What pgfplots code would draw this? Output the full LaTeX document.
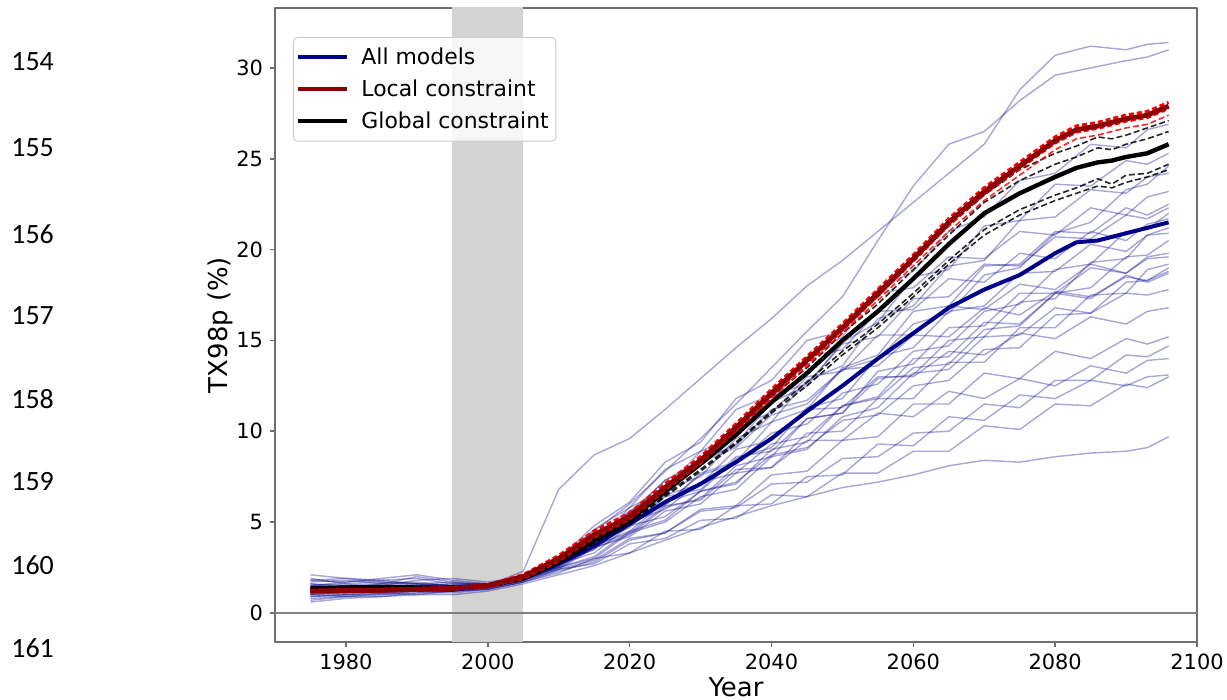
\documentclass[border=0pt]{standalone}
\usepackage{fontspec}
\setmainfont{DejaVu Sans}
\newfontfamily\carlito{Carlito}
\usepackage{pgfplots}
\usepackage{pgfplotstable}
\pgfplotsset{compat=1.18}

\definecolor{thinblue}{RGB}{0,0,139}
\definecolor{meanblue}{RGB}{0,0,139}
\definecolor{locred}{RGB}{139,0,0}
\definecolor{bandgray}{RGB}{211,211,211}
\definecolor{spine}{RGB}{110,110,110}
\definecolor{zeroline}{RGB}{128,128,128}
\definecolor{legframe}{RGB}{204,204,204}

% one row per model run
\pgfplotstableread{
model 1975 1980 1985 1990 1995 2000 2005 2010 2015 2020 2025 2030 2035 2040 2045 2050 2055 2060 2065 2070 2075 2080 2085 2090 2093 2096
m1 1.6 1.5 1.4 1.6 1.5 1.5 2.3 6.8 8.7 9.6 11.2 12.9 14.6 16.2 18.0 19.4 21.0 22.6 24.2 25.8 28.8 30.7 31.2 31.0 31.3 31.4
m2 1.3 1.4 1.3 1.5 1.4 1.5 2.0 3.0 4.5 6.0 7.8 9.6 11.5 13.5 15.5 17.4 20.5 23.5 25.8 26.5 28.2 29.6 30.0 30.4 30.6 31.0
m3 2.1 1.9 1.8 1.9 1.6 1.6 2.0 2.8 4.3 5.5 7.3 8.4 10.4 11.6 14.0 15.2 17.8 18.8 21.0 21.8 23.8 24.2 25.8 25.6 26.6 26.9
m4 1.0 1.1 1.2 1.2 1.2 1.4 1.9 2.8 3.7 5.5 6.5 8.4 9.3 11.6 12.5 14.9 16.0 18.5 18.9 21.3 21.6 23.6 23.5 24.9 24.7 25.3
m5 1.8 1.7 1.9 2.1 1.8 1.6 1.9 2.9 3.9 5.6 6.6 8.3 9.1 10.9 11.5 13.4 14.0 15.9 16.5 18.6 19.0 20.9 21.5 23.3 23.6 24.6
m6 0.8 0.9 1.0 1.1 1.2 1.4 1.8 2.6 4.0 5.0 6.8 7.5 9.6 10.5 12.8 13.6 16.2 16.9 19.1 19.4 21.6 21.8 23.3 23.1 24.0 24.2
m7 1.5 1.6 1.4 1.5 1.5 1.6 2.1 3.0 4.8 6.1 8.3 9.4 11.8 12.8 15.0 15.5 17.6 17.9 19.6 19.5 21.0 20.8 22.3 21.9 22.9 23.2
m8 1.2 1.3 1.2 1.3 1.3 1.4 1.8 2.7 3.5 5.1 5.9 7.7 8.3 10.5 11.2 13.5 14.2 16.6 16.9 19.1 19.2 21.0 20.9 22.3 21.9 22.5
m9 1.9 1.6 1.7 1.6 1.5 1.5 1.9 2.8 3.6 5.2 6.0 7.6 8.2 9.9 10.4 12.1 12.6 14.4 14.7 16.6 17.0 18.9 19.2 21.0 21.1 22.0
m10 0.9 1.0 1.1 1.0 1.2 1.4 1.9 2.9 4.6 5.8 7.9 8.9 11.2 12.0 14.1 14.5 16.6 16.7 18.4 18.2 19.8 19.5 21.0 20.5 21.4 21.7
m11 1.4 1.5 1.6 2.0 1.7 1.6 1.9 2.5 3.7 4.5 6.1 6.7 8.5 9.1 11.3 11.8 14.1 14.6 16.6 16.9 18.7 18.8 20.3 19.9 20.8 20.9
m12 1.1 1.0 1.2 1.3 1.2 1.4 1.8 2.7 3.5 5.0 5.7 7.2 7.7 9.3 9.7 11.4 11.8 13.5 13.7 15.6 15.8 17.6 17.9 19.6 19.7 20.5
m13 1.7 1.8 1.6 1.5 1.6 1.6 2.0 2.8 4.3 5.4 7.3 8.2 10.3 11.0 13.0 13.3 15.3 15.3 16.9 16.7 18.1 17.8 19.2 18.7 19.6 19.8
m14 0.7 0.9 0.9 1.1 1.1 1.3 1.7 2.4 3.6 4.3 5.8 6.3 8.1 8.6 10.7 11.0 13.3 13.7 15.7 15.8 17.6 17.6 19.0 18.7 19.5 19.6
m15 1.3 1.4 1.5 1.4 1.4 1.5 1.9 2.6 3.7 4.4 5.9 6.2 7.9 8.0 9.9 10.0 11.8 11.8 13.8 13.8 15.7 15.7 17.5 17.6 18.9 19.2
m16 1.6 1.4 1.5 1.8 1.9 1.7 2.0 2.9 3.8 5.6 6.5 8.4 9.2 11.2 11.7 13.4 13.6 15.3 15.2 16.8 16.4 17.7 17.4 18.5 18.3 18.8
m17 1.0 1.2 1.1 1.2 1.3 1.4 1.8 2.5 3.1 4.5 5.1 6.7 7.1 9.0 9.4 11.4 11.9 14.0 14.1 16.0 15.9 17.6 17.3 18.6 18.2 18.7
m18 1.5 1.7 1.8 1.6 1.5 1.5 1.9 2.7 3.3 4.8 5.3 6.7 7.2 8.7 9.1 10.6 10.9 12.5 12.8 14.5 14.6 16.4 16.5 18.2 18.3 19.0
m19 1.2 1.1 1.3 1.2 1.3 1.4 1.8 2.6 4.0 4.8 6.5 7.1 9.0 9.5 11.2 11.3 13.0 13.0 14.4 14.2 15.4 15.1 16.3 15.9 16.6 16.8
m20 0.9 1.0 1.0 1.2 1.2 1.3 1.7 2.3 2.8 4.0 4.4 5.7 5.9 7.6 7.8 9.5 9.7 11.5 11.5 13.2 12.9 14.4 14.0 15.1 14.8 15.2
m21 1.4 1.3 1.4 1.5 1.4 1.4 1.8 2.4 2.9 4.1 4.4 5.6 5.8 7.1 7.2 8.5 8.6 9.9 10.0 11.5 11.3 12.8 12.8 14.2 14.1 14.7
m22 1.8 1.9 1.7 1.6 1.7 1.5 1.9 2.5 3.6 4.2 5.6 6.0 7.7 8.0 9.5 9.5 11.0 10.8 12.2 11.8 12.9 12.5 13.6 13.2 13.9 14.0
m23 1.1 1.2 1.3 1.2 1.2 1.3 1.7 2.2 3.0 3.3 4.5 4.6 5.9 6.0 7.5 7.6 9.3 9.2 10.8 10.6 12.0 11.8 12.8 12.5 13.0 13.1
m24 1.3 1.2 1.1 1.3 1.4 1.4 1.8 2.4 2.7 3.8 4.1 5.1 5.2 6.5 6.4 7.7 7.7 8.9 8.9 10.3 10.1 11.5 11.4 12.6 12.4 13.0
m25 0.6 0.8 0.9 1.0 1.0 1.2 1.6 2.1 2.6 3.3 4.0 4.7 5.3 5.9 6.4 6.9 7.2 7.6 8.1 8.4 8.3 8.6 8.8 8.9 9.1 9.7
m26 1.5 1.4 1.6 1.7 1.5 1.6 2.0 3.0 3.9 5.8 6.8 8.9 9.7 12.0 12.6 14.8 15.2 17.3 17.4 19.2 19.1 20.7 20.6 21.9 21.7 22.3
m27 1.0 0.9 1.1 1.2 1.3 1.4 1.8 2.7 3.9 4.7 6.4 6.8 8.6 8.9 10.7 11.0 12.9 13.1 15.0 15.2 17.1 17.3 19.3 19.5 20.8 21.2
m28 1.3 1.5 1.4 1.4 1.5 1.5 1.9 2.5 3.0 4.4 5.0 6.4 6.8 8.6 9.0 10.8 11.3 13.2 13.4 15.2 15.3 16.8 16.5 17.6 17.5 17.8
}\modelrows
\pgfplotstabletranspose[colnames from=model]{\models}{\modelrows}

% ensemble mean, local and global constraint
\pgfplotstableread{
year blue red black rdu rdl rdt d1 d2 d3 d4
1975 1.20 1.20 1.35 1.25 1.15 1.20 1.35 1.35 1.35 1.35
1980 1.25 1.22 1.40 1.27 1.17 1.22 1.40 1.40 1.40 1.40
1985 1.30 1.25 1.42 1.30 1.20 1.25 1.42 1.42 1.42 1.42
1990 1.32 1.30 1.40 1.35 1.25 1.30 1.40 1.40 1.40 1.40
1995 1.35 1.35 1.38 1.40 1.30 1.35 1.38 1.38 1.38 1.38
2000 1.50 1.50 1.50 1.55 1.45 1.50 1.50 1.50 1.50 1.50
2005 1.90 2.00 1.90 2.10 1.90 2.00 1.9 1.9 1.9 1.9
2010 2.70 3.00 2.80 3.15 2.88 2.95 2.9 2.8 2.7 2.7
2015 3.70 4.30 4.00 4.50 4.18 4.20 4.1 4.1 3.9 3.8
2020 4.90 5.30 5.10 5.50 5.18 5.20 5.3 5.2 4.9 4.9
2025 6.10 6.90 6.70 7.10 6.78 6.80 7.0 6.9 6.5 6.4
2030 7.10 8.40 8.20 8.60 8.28 8.30 8.5 8.4 7.9 7.8
2035 8.30 10.20 9.80 10.40 10.08 10.00 10.3 10.0 9.4 9.3
2040 9.60 12.10 11.60 12.30 11.98 11.80 12.1 11.9 11.1 11.0
2045 11.10 13.90 13.20 14.10 13.78 13.60 13.9 13.5 12.7 12.5
2050 12.50 15.70 15.00 15.90 15.58 15.40 15.7 15.4 14.4 14.2
2055 14.00 17.60 16.60 17.80 17.48 17.20 17.4 17.0 15.9 15.7
2060 15.40 19.50 18.40 19.70 19.38 19.10 19.4 18.9 17.6 17.4
2065 16.80 21.50 20.30 21.70 21.38 21.00 21.3 20.8 19.4 19.2
2070 17.80 23.20 22.00 23.40 23.08 22.70 23.0 22.6 21.1 20.8
2075 18.60 24.60 23.10 24.80 24.48 24.10 24.4 23.8 22.2 21.9
2080 19.80 26.00 24.00 26.20 25.88 25.50 25.3 24.7 23.0 22.7
2083 20.40 26.60 24.50 26.80 26.48 26.10 25.7 25.1 23.4 23.1
2086 20.50 26.80 24.80 27.00 26.68 26.30 26.2 25.6 23.9 23.5
2088 20.70 27.00 24.90 27.20 26.88 26.50 26.1 25.5 23.6 23.4
2090 20.90 27.20 25.10 27.40 27.08 26.70 26.3 25.8 24.1 23.7
2093 21.20 27.40 25.30 27.60 27.28 26.90 26.7 26.1 24.2 24.0
2096 21.50 27.90 25.80 28.10 27.78 27.40 27.1 26.5 24.7 24.4
}\cons

\begin{document}
\begin{tikzpicture}
\useasboundingbox (0,0) rectangle (613.5bp,350bp);
% line numbers of the page
\foreach \n/\y in {154/319,155/276,156/233,157/192,158/150.5,159/109,160/67.5,161/26}{
  \node[anchor=west,inner sep=0pt,font=\carlito\fontsize{14}{16}\selectfont] at (5.5bp,\y bp) {\n};
}
\begin{axis}[
  at={(137.5bp,29bp)}, anchor=south west,
  scale only axis, width=461bp, height=317bp,
  xmin=1970, xmax=2100, ymin=-1.6, ymax=33.3,
  xtick={1980,2000,...,2100}, ytick={0,5,...,30},
  xtick pos=bottom, ytick pos=left, tick align=outside,
  major tick length=2.5bp,
  axis line style={spine, line width=0.8bp},
  every tick/.style={spine, line width=0.8bp},
  /pgf/number format/assume math mode=true,
  /pgf/number format/1000 sep={},
  tick label style={font=\fontsize{10.5}{12}\selectfont},
  label style={font=\fontsize{13}{15}\selectfont},
  xlabel={Year}, ylabel={TX98p (\%)},
  xlabel style={at={(axis description cs:0.5,0)}, anchor=base, yshift=-27.3bp},
  ylabel style={at={(axis description cs:-0.0597,0.5)}, anchor=center},
  legend image code/.code={\draw[#1] (0bp,0bp) -- (24.5bp,0bp);},
  legend cell align=left,
  legend style={at={(axis description cs:0.0195,0.9543)}, anchor=north west,
    draw=legframe, line width=0.5bp, rounded corners=2bp,
    fill=white, fill opacity=0.8, text opacity=1,
    font=\fontsize{11}{13}\selectfont,
    inner xsep=1.5bp, inner ysep=3bp, row sep=2.2bp,
    nodes={inner sep=2bp},
    /tikz/every odd column/.style={column sep=4bp}},
  line join=round,
]
\addlegendimage{meanblue, line width=2bp}
\addlegendentry{All models}
\addlegendimage{locred, line width=2bp}
\addlegendentry{Local constraint}
\addlegendimage{black, line width=2bp}
\addlegendentry{Global constraint\hspace{3bp}}

\addplot[draw=none, fill=bandgray, forget plot] coordinates {(1995,-10) (2005,-10) (2005,50) (1995,50)} -- cycle;
\addplot[zeroline, line width=1.2bp, forget plot] coordinates {(1960,0) (2110,0)};

\pgfplotsinvokeforeach{1,...,28}{
  \addplot[thinblue, opacity=0.35, line width=0.7bp, forget plot] table[x=colnames, y=m#1] {\models};
}
\addplot[meanblue, line width=2bp, forget plot] table[x=year, y=blue] {\cons};
\foreach \c in {d1,d2,d3,d4}{
  \addplot[black, opacity=0.85, line width=0.8bp, dash pattern=on 3bp off 1.5bp, forget plot] table[x=year, y=\c] {\cons};
}
\addplot[black, line width=2.2bp, forget plot] table[x=year, y=black] {\cons};
\addplot[red, opacity=0.85, line width=0.8bp, dash pattern=on 3bp off 1.5bp, forget plot] table[x=year, y=rdt] {\cons};
\addplot[red, line width=1.6bp, dash pattern=on 2.5bp off 1.5bp, forget plot] table[x=year, y=rdu] {\cons};
\addplot[red, line width=1.6bp, dash pattern=on 2.5bp off 1.5bp, forget plot] table[x=year, y=rdl] {\cons};
\addplot[locred, line width=2.4bp, forget plot] table[x=year, y=red] {\cons};
\end{axis}
\end{tikzpicture}
\end{document}
